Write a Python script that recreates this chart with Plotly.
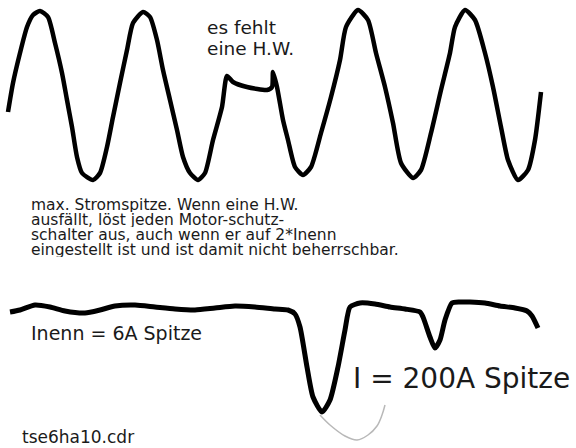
import plotly.graph_objects as go

# Upper trace (line current with one missing half wave), picture coordinates
top_x = [8, 13, 20, 27, 33, 40, 48, 55, 62, 67, 72, 77, 82, 93, 100, 107, 113, 120, 127, 133, 143,
         150, 157, 163, 170, 177, 183, 190, 198, 205, 213, 222, 227, 233, 247, 267, 272, 273, 277,
         283, 288, 295, 303, 311, 321, 331, 340, 346, 358, 368, 376, 385, 393, 401, 413, 421, 431,
         441, 450, 455, 465, 475, 485, 493, 501, 508, 518, 528, 535, 541]
top_y = [112, 83, 53, 27, 15, 11, 17, 43, 73, 100, 127, 157, 173, 180, 173, 147, 117, 83, 50, 23, 12,
         17, 40, 70, 100, 130, 157, 173, 180, 173, 140, 107, 76, 82, 87, 90, 87, 72, 87,
         120, 140, 167, 175, 167, 133, 97, 60, 27, 10, 20, 53, 87, 123, 163, 178, 170, 133,
         90, 53, 27, 10, 20, 53, 87, 127, 160, 180, 170, 140, 92]

# Lower trace (current peak)
bot_x = [10, 20, 35, 50, 65, 85, 100, 115, 135, 155, 175, 195, 215, 235, 255, 275, 288, 295, 300,
         307, 313, 322, 330, 338, 345, 350, 360, 375, 390, 405, 420, 423, 430, 435, 440, 445, 452,
         460, 470, 485, 500, 515, 527, 532, 538]
bot_y = [312, 310, 305, 307, 311, 313, 310, 306, 305, 307, 309, 310, 308, 306, 307, 309, 310, 314, 327,
         367, 397, 412, 400, 367, 330, 307, 303, 304, 307, 309, 312, 317, 337, 348, 340, 320, 303,
         302, 302, 303, 306, 308, 311, 316, 328]

# Thin grey pen stroke under the peak
arc_x = [320, 330, 345, 357, 368, 377, 382, 385]
arc_y = [415, 425, 436, 440, 435, 426, 415, 405]

labels = ["es fehlt", "eine H.W."]
note_lines = [
    "max. Stromspitze. Wenn eine H.W.",
    "ausfällt, löst jeden Motor-schutz-",
    "schalter aus, auch wenn er auf 2*Inenn",
    "eingestellt ist und ist damit nicht beherrschbar.",
]
label_nominal = "Inenn = 6A Spitze"
label_peak = "I = 200A Spitze"
label_file = "tse6ha10.cdr"

FONT = "DejaVu Sans"
TXT = "#1a1a1a"

fig = go.Figure()
fig.add_trace(go.Scatter(x=top_x, y=top_y, mode="lines",
                         line=dict(color="black", width=4.5, shape="spline", smoothing=0.6),
                         hoverinfo="skip"))
fig.add_trace(go.Scatter(x=bot_x, y=bot_y, mode="lines",
                         line=dict(color="black", width=5, shape="spline", smoothing=0.6),
                         hoverinfo="skip"))
fig.add_trace(go.Scatter(x=arc_x, y=arc_y, mode="lines",
                         line=dict(color="#b8b8b8", width=1.5, shape="spline"),
                         hoverinfo="skip"))

def ann(text, x, y, size, height=None):
    fig.add_annotation(x=x, y=y, text=text, showarrow=False, xanchor="left", yanchor="middle",
                       height=height, borderpad=0,
                       font=dict(family=FONT, size=size, color=TXT))

ann(labels[0], 206, 27, 18.5)
ann(labels[1], 206, 48, 18.5)
for i, line in enumerate(note_lines):
    ann(line, 30, 205 + i * 15, 15.5, height=14)
ann(label_nominal, 30, 333, 19)
ann(label_peak, 352, 378, 28)
ann(label_file, 21, 437, 17)

fig.update_layout(
    width=576, height=448,
    margin=dict(l=0, r=0, t=0, b=0),
    paper_bgcolor="white", plot_bgcolor="white",
    showlegend=False,
    xaxis=dict(range=[0, 576], visible=False, fixedrange=True),
    yaxis=dict(range=[448, 0], visible=False, fixedrange=True),
)
fig.write_html("out.html", config={"displayModeBar": False},
               post_script="document.body.style.margin='0';document.body.style.overflow='hidden';")
